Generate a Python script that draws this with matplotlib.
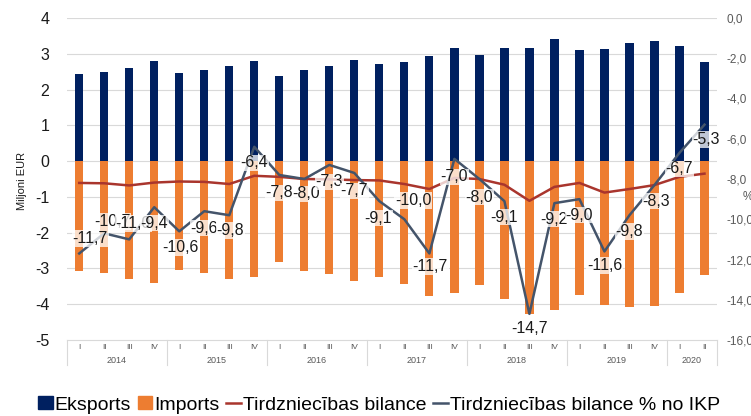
import matplotlib
matplotlib.use("Agg")
import numpy as np
import matplotlib.pyplot as plt
from matplotlib.patches import Patch
from matplotlib.lines import Line2D

plt.rcParams['font.family'] = ['Liberation Sans', 'DejaVu Sans']

# data
quarters = ['I', 'II', 'III', 'IV'] * 6 + ['I', 'II']
years = ['2014', '2015', '2016', '2017', '2018', '2019', '2020']
exports = [2.44, 2.48, 2.61, 2.80, 2.46, 2.54, 2.65, 2.80, 2.37, 2.56, 2.67, 2.84, 2.71,
           2.77, 2.94, 3.17, 2.96, 3.17, 3.17, 3.40, 3.11, 3.14, 3.29, 3.37, 3.23, 2.78]
imports = [-3.07, -3.12, -3.30, -3.41, -3.05, -3.14, -3.30, -3.23, -2.83, -3.06, -3.15, -3.36, -3.25,
           -3.44, -3.77, -3.68, -3.46, -3.85, -4.28, -4.15, -3.73, -4.03, -4.08, -4.05, -3.69, -3.17]
balance = [-0.61, -0.62, -0.68, -0.60, -0.57, -0.58, -0.64, -0.41, -0.44, -0.50, -0.51, -0.53, -0.54,
           -0.64, -0.78, -0.47, -0.50, -0.66, -1.11, -0.72, -0.61, -0.88, -0.78, -0.67, -0.44, -0.35]
balance_gdp = [-11.7, -10.7, -11.0, -9.4, -10.6, -9.6, -9.8, -6.4, -7.8, -8.0, -7.3, -7.7, -9.1,
               -10.0, -11.7, -7.0, -8.0, -9.1, -14.7, -9.2, -9.0, -11.6, -9.8, -8.3, -6.7, -5.3]

# label offsets (pixels) for the % labels
lbl_off = [(11, 15), (8, 12), (4, 16), (0, -16), (1, -16), (0, -17), (1, -15), (0, -16),
           (0, -18), (2, -15), (0, -17), (0, -18), (-1, -17), (9, 19), (1, -13), (0, -18),
           (0, -18), (0, -16), (0, -15), (0, -16), (0, -16), (0, -14), (0, -16), (2, -16),
           (0, -16), (2, -15)]

c_exp = '#002060'
c_imp = '#ED7D31'
c_bal = '#A9352D'
c_gdp = '#44546A'

W, H = 751, 416
fig = plt.figure(figsize=(W / 100, H / 100), dpi=100)
ax = fig.add_axes([66.7 / W, 1 - 340 / H, (717 - 66.7) / W, (340 - 18) / H])
ax2 = ax.twinx()

x = np.arange(len(quarters))
ax.bar(x, exports, width=0.33, color=c_exp, zorder=2)
ax.bar(x, imports, width=0.33, color=c_imp, zorder=2)
ax.plot(x, balance, color=c_bal, lw=1.8, zorder=3)

ax.set_xlim(-0.5, len(x) - 0.5)
ax.set_ylim(-5, 4)
ax.set_yticks(range(-5, 5))
ax.set_yticklabels([str(v) for v in range(-5, 5)], fontsize=11.5, color='#1a1a1a')
ax.tick_params(axis='y', length=0, pad=12.5)
ax.set_xticks([])
for yv in range(-4, 5):
    ax.axhline(yv, color='#d9d9d9', lw=0.8, zorder=0)
for s in ['top', 'left', 'right']:
    ax.spines[s].set_visible(False)
ax.spines['bottom'].set_color('#d9d9d9')

ax2.plot(x, balance_gdp, color=c_gdp, lw=1.8, zorder=3)
ax2.set_ylim(-16, 0)
rt = np.arange(-16, 1, 2)
ax2.set_yticks(rt)
ax2.set_yticklabels([f"{v:.1f}".replace('.', ',') for v in rt], fontsize=8.5, color='#595959')
ax2.tick_params(axis='y', length=0, pad=7)
for s in ax2.spines.values():
    s.set_visible(False)

for i, v in enumerate(balance_gdp):
    ax2.annotate(f"{v:.1f}".replace('.', ','), (i, v), xytext=lbl_off[i],
                 textcoords='offset pixels', ha='center', va='center', fontsize=11.5,
                 color='#1a1a1a', zorder=5,
                 bbox=dict(boxstyle='square,pad=0.05', fc='white', ec='none', alpha=0.75))

# category table under the axis
tr = ax.get_xaxis_transform()
for i, q in enumerate(quarters):
    ax.text(i, -0.022, q, transform=tr, ha='center', va='center', fontsize=6, color='#595959')
starts = [-0.5, 3.5, 7.5, 11.5, 15.5, 19.5, 23.5, 25.5]
for k, yr in enumerate(years):
    ax.text((starts[k] + starts[k + 1]) / 2, -0.065, yr, transform=tr, ha='center',
            va='center', fontsize=6.5, color='#595959')
for s in starts:
    ax.plot([s, s], [0, -0.078], transform=tr, color='#d9d9d9', lw=0.8, clip_on=False)

fig.text(22 / W, 1 - 181 / H, 'Miljoni EUR', rotation=90, ha='center', va='center',
         fontsize=8, color='#1a1a1a')
fig.text(743 / W, 1 - 197 / H, '%', ha='left', va='center', fontsize=8.5, color='#595959')

handles = [Patch(color=c_exp), Patch(color=c_imp),
           Line2D([], [], color=c_bal, lw=1.8), Line2D([], [], color=c_gdp, lw=1.8)]
labels = ['Eksports', 'Imports', 'Tirdzniecības bilance', 'Tirdzniecības bilance % no IKP']
fig.legend(handles, labels, loc='center', bbox_to_anchor=(379 / W, 1 - 405 / H), ncol=4,
           frameon=False, fontsize=14, handlelength=0.75, handleheight=0.6,
           handletextpad=0.1, columnspacing=0.35, borderpad=0)

fig.savefig('out.png', dpi=100)
